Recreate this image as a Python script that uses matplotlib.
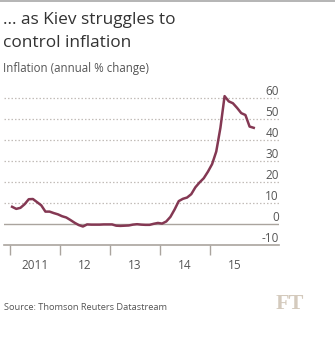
import matplotlib
matplotlib.use("Agg")
import matplotlib.pyplot as plt
import matplotlib.transforms as mtransforms
from matplotlib.lines import Line2D
import numpy as np

# ---- data ----
start_year = 2011
inflation = [
    8.2, 7.2, 7.7, 9.4, 11.8, 11.9, 10.4, 8.9, 5.9, 5.9, 5.2, 4.6,      # 2011
    3.7, 3.1, 1.9, 0.6, -0.5, -1.2, -0.2, -0.3, -0.3, -0.3, -0.2, -0.2,  # 2012
    -0.2, -0.8, -0.9, -0.8, -0.7, -0.3, -0.1, -0.3, -0.4, -0.4, 0.1, 0.5,  # 2013
    0.2, 1.2, 3.4, 6.9, 10.9, 12.0, 12.6, 14.2, 17.5, 19.8, 21.8, 24.9,  # 2014
    28.5, 34.5, 45.8, 60.9, 58.4, 57.5, 55.3, 52.8, 51.9, 46.4, 45.8,    # 2015
]
year_ticks = [2011, 2012, 2013, 2014, 2015]
year_labels = ["2011", "12", "13", "14", "15"]
y_ticks = [-10, 0, 10, 20, 30, 40, 50, 60]
y_labels = ["-10", "0", "10", "20", "30", "40", "50", "60"]

title_lines = ["... as Kiev struggles to", "control inflation"]
subtitle = "Inflation (annual % change)"
source = "Source: Thomson Reuters Datastream"

# ---- style ----
W, H = 335, 342
FONT = "Open Sans"
LINE_COLOR = "#843853"
TEXT = "#333333"
GREY_TEXT = "#555555"
GRID = "#c2bdb8"
AXIS = "#aaa49e"

fig = plt.figure(figsize=(W / 100, H / 100), dpi=100)
fig.patch.set_facecolor("white")

def fx(px):
    return px / W

def fy(py):
    return 1 - py / H

# axes placement (pixels)
ax_left, ax_right = 4, 279
ax_top, ax_bottom = 80, 245
ax = fig.add_axes([fx(ax_left), fy(ax_bottom), fx(ax_right - ax_left), (ax_bottom - ax_top) / H])
ax.set_facecolor("white")

# x scale: year start at px 10, 50 px per year
px_per_year = 50.0
x0_px = 10
ax.set_xlim(start_year + (ax_left - x0_px) / px_per_year,
            start_year + (ax_right - x0_px) / px_per_year)
px_per_unit = 2.1
ax.set_ylim(-10, -10 + (ax_bottom - ax_top) / px_per_unit)

t = start_year + (np.arange(len(inflation)) + 0.5) / 12.0

for s in ["top", "right", "left"]:
    ax.spines[s].set_visible(False)
ax.spines["bottom"].set_color(AXIS)
ax.spines["bottom"].set_linewidth(1.2)

# gridlines
for v in y_ticks:
    if v == -10:
        continue
    if v == 0:
        ax.axhline(v, color=AXIS, lw=1.0, zorder=1)
    else:
        ax.axhline(v, color=GRID, lw=0.9, linestyle=(0, (1.2, 1.6)), zorder=1)

ax.plot(t, inflation, color=LINE_COLOR, lw=1.8, solid_joinstyle="round", zorder=3)

# x ticks (year boundaries) and labels (mid-year)
ax.set_xticks(year_ticks)
ax.set_xticklabels([])
ax.tick_params(axis="x", which="major", length=7, width=1.0, color=AXIS, direction="out")
ax.set_xticks([y + 0.5 for y in year_ticks], minor=True)
ax.set_xticklabels(year_labels, minor=True, fontfamily=FONT, fontsize=8.5, color=GREY_TEXT)
ax.tick_params(axis="x", which="minor", length=0, pad=10)
ax.set_yticks([])

# y labels on right, above gridlines
trans = mtransforms.blended_transform_factory(ax.transAxes, ax.transData)
offset = mtransforms.ScaledTranslation(0, 3 / 100, fig.dpi_scale_trans)
for v, lab in zip(y_ticks, y_labels):
    ax.text(1.0, v, lab, transform=trans + offset, ha="right", va="baseline",
            fontfamily=FONT, fontsize=8.5, color=GREY_TEXT)

# titles
fig.text(fx(3), fy(24), title_lines[0], fontfamily=FONT, fontsize=12.4, color=TEXT, va="baseline")
fig.text(fx(3), fy(47), title_lines[1], fontfamily=FONT, fontsize=12.4, color=TEXT, va="baseline")
fig.text(fx(3), fy(72), subtitle, fontfamily=FONT, fontsize=8.3, color=GREY_TEXT, va="baseline")
fig.text(fx(4), fy(310), source, fontfamily=FONT, fontsize=6.7, color=GREY_TEXT, va="baseline")
fig.text(fx(276), fy(309), "FT", fontfamily="Liberation Serif", fontweight="bold",
         fontsize=16, color="#d4cabd", va="baseline")

# top rule
fig.add_artist(Line2D([0, 1], [fy(0.7), fy(0.7)], transform=fig.transFigure, color="#a8a8a8", lw=1.2))

fig.savefig("out.png", dpi=100, facecolor="white")
